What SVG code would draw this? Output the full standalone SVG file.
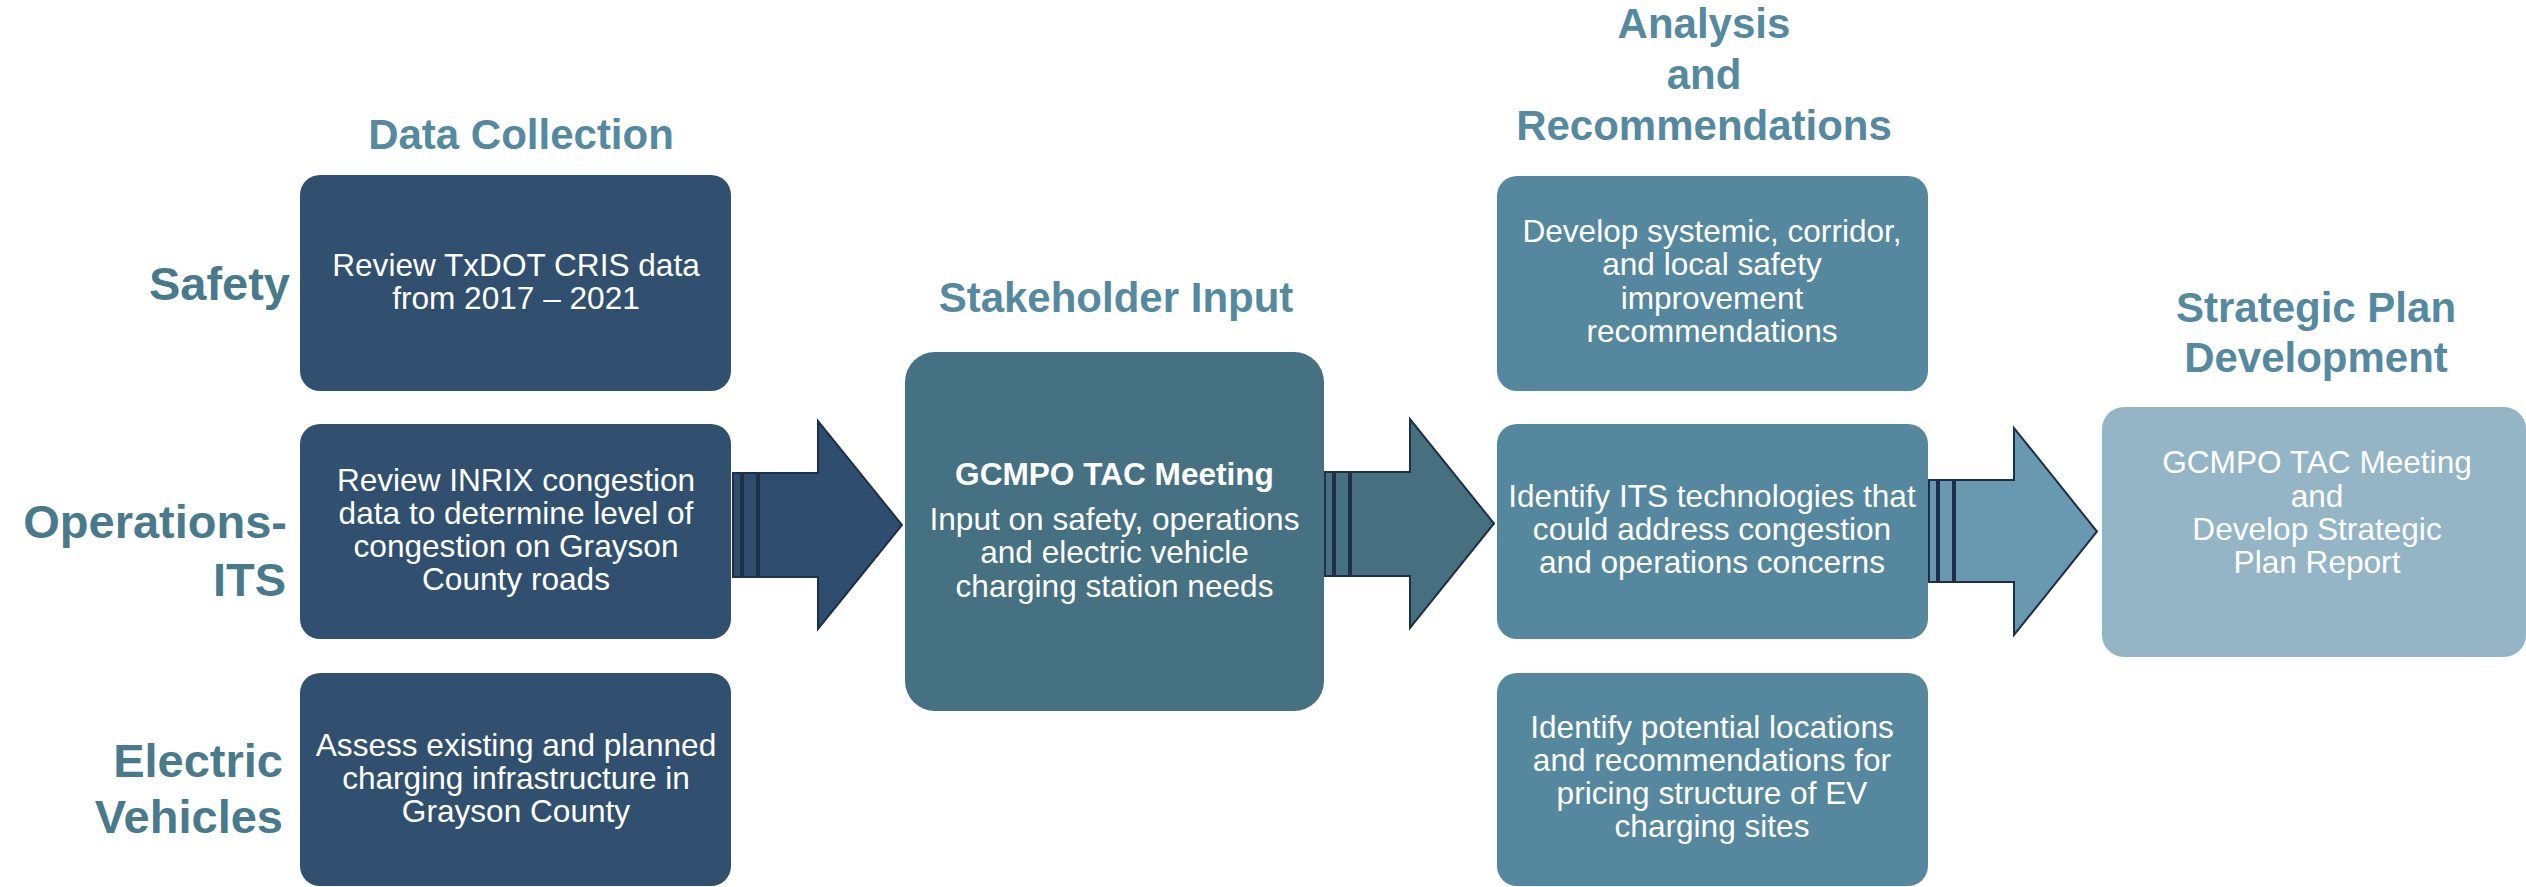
<svg xmlns="http://www.w3.org/2000/svg" width="2526" height="887" viewBox="0 0 2526 887">
  <style>
    text { font-family: "Liberation Sans", Arial, sans-serif; }
    .head { font-size: 42px; font-weight: bold; fill: #5589a0; text-anchor: middle; }
    .row { font-size: 47px; font-weight: bold; fill: #497a8c; text-anchor: end; }
    .body { font-size: 31.6px; fill: #ffffff; text-anchor: middle; }
    .bold { font-weight: bold; }
    .dc { fill: #31506f; }
    .sh { fill: #467183; }
    .an { fill: #55879e; }
    .sp { fill: #93b5c6; }
    .arr { stroke: #1d3048; stroke-width: 2; stroke-linejoin: miter; }
  </style>

  <g id="headings">
    <text class="head" x="521" y="149">Data Collection</text>
    <text class="head" x="1116" y="312">Stakeholder Input</text>
    <text class="head" x="1704" y="38">Analysis</text>
    <text class="head" x="1704" y="89">and</text>
    <text class="head" x="1704" y="140">Recommendations</text>
    <text class="head" x="2316" y="322">Strategic Plan</text>
    <text class="head" x="2316" y="372">Development</text>
  </g>

  <g id="row-labels">
    <text class="row" x="290" y="300">Safety</text>
    <text class="row" x="287" y="538">Operations-</text>
    <text class="row" x="286" y="596">ITS</text>
    <text class="row" x="283" y="777">Electric</text>
    <text class="row" x="283" y="833">Vehicles</text>
  </g>

  <g id="connectors">
    <g id="arrow1" fill="#2f4e6f" class="arr">
      <rect x="733" y="473" width="8" height="104"/>
      <rect x="743" y="473" width="14" height="104"/>
      <path d="M759,473 H818 V421 L902,525 L818,629 V577 H759 Z"/>
    </g>
    <g id="arrow2" fill="#46707f" class="arr">
      <rect x="1325" y="472" width="8" height="104"/>
      <rect x="1335" y="472" width="14" height="104"/>
      <path d="M1351,472 H1410 V419 L1494,523.5 L1410,628 V576 H1351 Z"/>
    </g>
    <g id="arrow3" fill="#6899b0" class="arr">
      <rect x="1929" y="480" width="8" height="102"/>
      <rect x="1939" y="480" width="14" height="102"/>
      <path d="M1955,480 H2014 V428 L2097,531.5 L2014,635 V582 H1955 Z"/>
    </g>
  </g>

  <g id="dc-safety">
    <rect class="dc" x="300" y="175" width="431" height="216" rx="20"/>
    <text class="body" x="516" y="276">Review TxDOT CRIS data</text>
    <text class="body" x="516" y="309">from 2017 – 2021</text>
  </g>
  <g id="dc-ops">
    <rect class="dc" x="300" y="424" width="431" height="215" rx="20"/>
    <text class="body" x="516" y="491">Review INRIX congestion</text>
    <text class="body" x="516" y="524">data to determine level of</text>
    <text class="body" x="516" y="557">congestion on Grayson</text>
    <text class="body" x="516" y="590">County roads</text>
  </g>
  <g id="dc-ev">
    <rect class="dc" x="300" y="673" width="431" height="213" rx="20"/>
    <text class="body" x="516" y="756">Assess existing and planned</text>
    <text class="body" x="516" y="789">charging infrastructure in</text>
    <text class="body" x="516" y="822">Grayson County</text>
  </g>

  <g id="stakeholder">
    <rect class="sh" x="905" y="352" width="419" height="359" rx="30"/>
    <text class="body bold" x="1114.5" y="485">GCMPO TAC Meeting</text>
    <text class="body" x="1114.5" y="530">Input on safety, operations</text>
    <text class="body" x="1114.5" y="563">and electric vehicle</text>
    <text class="body" x="1114.5" y="597">charging station needs</text>
  </g>

  <g id="an-safety">
    <rect class="an" x="1497" y="176" width="431" height="215" rx="20"/>
    <text class="body" x="1712" y="242">Develop systemic, corridor,</text>
    <text class="body" x="1712" y="275">and local safety</text>
    <text class="body" x="1712" y="308.5">improvement</text>
    <text class="body" x="1712" y="342">recommendations</text>
  </g>
  <g id="an-its">
    <rect class="an" x="1497" y="424" width="431" height="215" rx="20"/>
    <text class="body" x="1712" y="507">Identify ITS technologies that</text>
    <text class="body" x="1712" y="540">could address congestion</text>
    <text class="body" x="1712" y="573">and operations concerns</text>
  </g>
  <g id="an-ev">
    <rect class="an" x="1497" y="673" width="431" height="213" rx="20"/>
    <text class="body" x="1712" y="738">Identify potential locations</text>
    <text class="body" x="1712" y="771">and recommendations for</text>
    <text class="body" x="1712" y="804">pricing structure of EV</text>
    <text class="body" x="1712" y="837">charging sites</text>
  </g>

  <g id="strategic">
    <rect class="sp" x="2102" y="407" width="424" height="250" rx="22"/>
    <text class="body" x="2317" y="473">GCMPO TAC Meeting</text>
    <text class="body" x="2317" y="507">and</text>
    <text class="body" x="2317" y="540">Develop Strategic</text>
    <text class="body" x="2317" y="573">Plan Report</text>
  </g>
</svg>
